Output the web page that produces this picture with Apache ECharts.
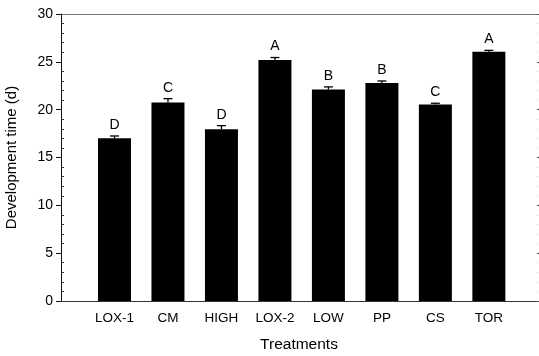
<!DOCTYPE html>
<html><head><meta charset="utf-8">
<script src="https://cdn.jsdelivr.net/npm/echarts@6/dist/echarts.min.js"></script>
<style>html,body{margin:0;padding:0;background:#fff}#c{width:539px;height:356px}</style>
</head><body><div id="c"></div>
<script>
const categories = ['LOX-1','CM','HIGH','LOX-2','LOW','PP','CS','TOR'];
const values = [17.0, 20.75, 17.95, 25.2, 22.1, 22.8, 20.55, 26.05];
const errors = [0.25, 0.4, 0.38, 0.25, 0.28, 0.2, 0.12, 0.15];
const letters = ['D','C','D','A','B','B','C','A'];
const yTicks = [0, 5, 10, 15, 20, 25, 30];

const font = '"Liberation Sans", Arial, sans-serif';
const barData = values.map((v, i) => [i + 1, v]);
const errData = values.map((v, i) => [i + 1, v, errors[i], letters[i]]);
const yMin = yTicks[0], yMax = yTicks[yTicks.length - 1];

const chart = echarts.init(document.getElementById('c'));
chart.setOption({
  animation: false,
  grid: { left: 61, right: 2, top: 14, bottom: 55, containLabel: false, outerBoundsMode: 'none' },
  xAxis: {
    type: 'value', min: 0, max: 8.9, interval: 1,
    name: 'Treatments', nameLocation: 'middle', nameGap: 36,
    nameTextStyle: { fontFamily: font, fontSize: 15.5, color: '#000' },
    axisLine: { show: true, lineStyle: { color: '#333', width: 1 } },
    axisTick: { show: false },
    splitLine: { show: false },
    axisLabel: {
      fontFamily: font, fontSize: 13.5, color: '#000', margin: 10,
      formatter: v => (v >= 1 && v <= categories.length && Number.isInteger(v)) ? categories[v - 1] : ''
    }
  },
  yAxis: [{
    type: 'value', min: yMin, max: yMax, interval: 5,
    name: 'Development time (d)', nameLocation: 'middle', nameGap: 42,
    nameTextStyle: { fontFamily: font, fontSize: 15, color: '#000' },
    axisLine: { show: true, lineStyle: { color: '#111', width: 1 } },
    axisTick: { show: true, inside: false, length: 5, lineStyle: { color: '#111' } },
    minorTick: { show: false },
    splitLine: { show: false },
    axisLabel: { fontFamily: font, fontSize: 14, color: '#000', margin: 8 }
  }, {
    type: 'value', position: 'left', min: yMin, max: yMax, interval: 5,
    axisLine: { show: false },
    axisTick: { show: false, inside: true, length: 3 },
    minorTick: { show: true, splitNumber: 5, length: 3, lineStyle: { color: '#333' } },
    splitLine: { show: false },
    axisLabel: { show: false }
  }, {
    type: 'value', position: 'right', min: yMin, max: yMax, interval: 5,
    axisLine: { show: false },
    axisTick: { show: true, inside: false, length: 3, lineStyle: { color: '#555' } },
    minorTick: { show: true, splitNumber: 5, length: 1, lineStyle: { color: '#bbb' } },
    splitLine: { show: false },
    axisLabel: { show: false }
  }],
  series: [{
    type: 'bar', data: barData, barWidth: 33,
    itemStyle: { color: '#000' }, z: 2
  }, {
    type: 'custom', data: errData, z: 3,
    renderItem: function (params, api) {
      const x = api.value(0), v = api.value(1), e = api.value(2);
      const base = api.coord([x, v]);
      const top = api.coord([x, v + e]);
      const cap = 4.5;
      return {
        type: 'group',
        children: [
          { type: 'line', shape: { x1: base[0], y1: base[1], x2: top[0], y2: top[1] }, style: { stroke: '#000', lineWidth: 1.3 } },
          { type: 'line', shape: { x1: top[0] - cap, y1: top[1], x2: top[0] + cap, y2: top[1] }, style: { stroke: '#000', lineWidth: 1.3 } },
          { type: 'text', x: top[0], y: top[1] - 4, style: { text: api.value(3), fill: '#000', font: '14px ' + font, textAlign: 'center', textVerticalAlign: 'bottom' } }
        ]
      };
    }
  }],
  graphic: [{
    type: 'line', shape: { x1: 61, y1: 14.5, x2: 537, y2: 14.5 },
    style: { stroke: '#777', lineWidth: 1.2 }
  }]
});
</script></body></html>
